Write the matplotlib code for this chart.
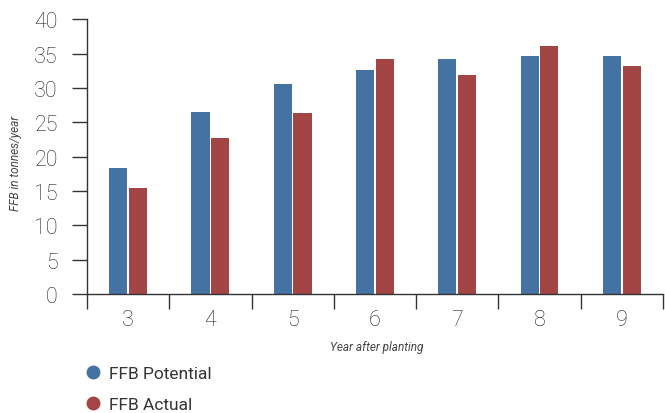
import numpy as np
import matplotlib
matplotlib.use('Agg')
import matplotlib.pyplot as plt
from matplotlib.lines import Line2D

plt.rcParams['font.family'] = ['Roboto', 'DejaVu Sans']

years = [3, 4, 5, 6, 7, 8, 9]
potential = [18.4, 26.5, 30.6, 32.7, 34.3, 34.7, 34.7]
actual = [15.4, 22.8, 26.4, 34.3, 31.9, 36.1, 33.2]

blue = '#4472a3'
red = '#a34545'
ink = '#333333'

fig = plt.figure(figsize=(6.65, 4.14), dpi=100)
ax = fig.add_axes([0.1308, 0.2874, 0.866, 0.6631])

x = np.arange(len(years))
w = 0.22
ax.bar(x - 0.12, potential, w, color=blue, zorder=1)
ax.bar(x + 0.12, actual, w, color=red, zorder=1)

ax.set_xlim(-0.5, len(years) - 0.5)
ax.set_ylim(0, 40)

# category separators as major ticks, labels on minor ticks at the centers
ax.set_xticks(np.arange(len(years) + 1) - 0.5)
ax.set_xticklabels([])
ax.set_xticks(x, minor=True)
ax.set_xticklabels([str(y) for y in years], minor=True)
ax.tick_params(axis='x', which='major', direction='out', length=10.5, width=1, color=ink)
ax.tick_params(axis='x', which='minor', length=0, pad=11, labelsize=15.5, labelcolor='#222222')

ax.set_yticks(np.arange(0, 41, 5))
ax.tick_params(axis='y', direction='out', length=11, width=1, color=ink,
               pad=10, labelsize=15.5, labelcolor='#222222')
for lab in ax.get_yticklabels() + ax.get_xticklabels(minor=True):
    lab.set_fontweight('light')

for s in ['top', 'right']:
    ax.spines[s].set_visible(False)
for s in ['left', 'bottom']:
    ax.spines[s].set_color(ink)
    ax.spines[s].set_linewidth(1)
    ax.spines[s].set_zorder(3)

ax.set_ylabel('FFB in tonnes/year', fontsize=8.5, style='italic', color='#444444')
ax.yaxis.set_label_coords(-0.112, 0.48)
fig.text(0.5665, 1 - 348 / 414, 'Year after planting', fontsize=8.5, style='italic',
         color='#444444', ha='center', va='center')

handles = [Line2D([], [], marker='o', ls='', color=blue, markersize=9),
           Line2D([], [], marker='o', ls='', color=red, markersize=9)]
fig.legend(handles, ['FFB Potential', 'FFB Actual'], loc='upper left',
           bbox_to_anchor=(0.117, 1 - 360 / 414), frameon=False, fontsize=12.5,
           handletextpad=0.4, labelspacing=0.9, borderaxespad=0, handlelength=1,
           labelcolor='#333333')

fig.savefig('out.png', dpi=100)
